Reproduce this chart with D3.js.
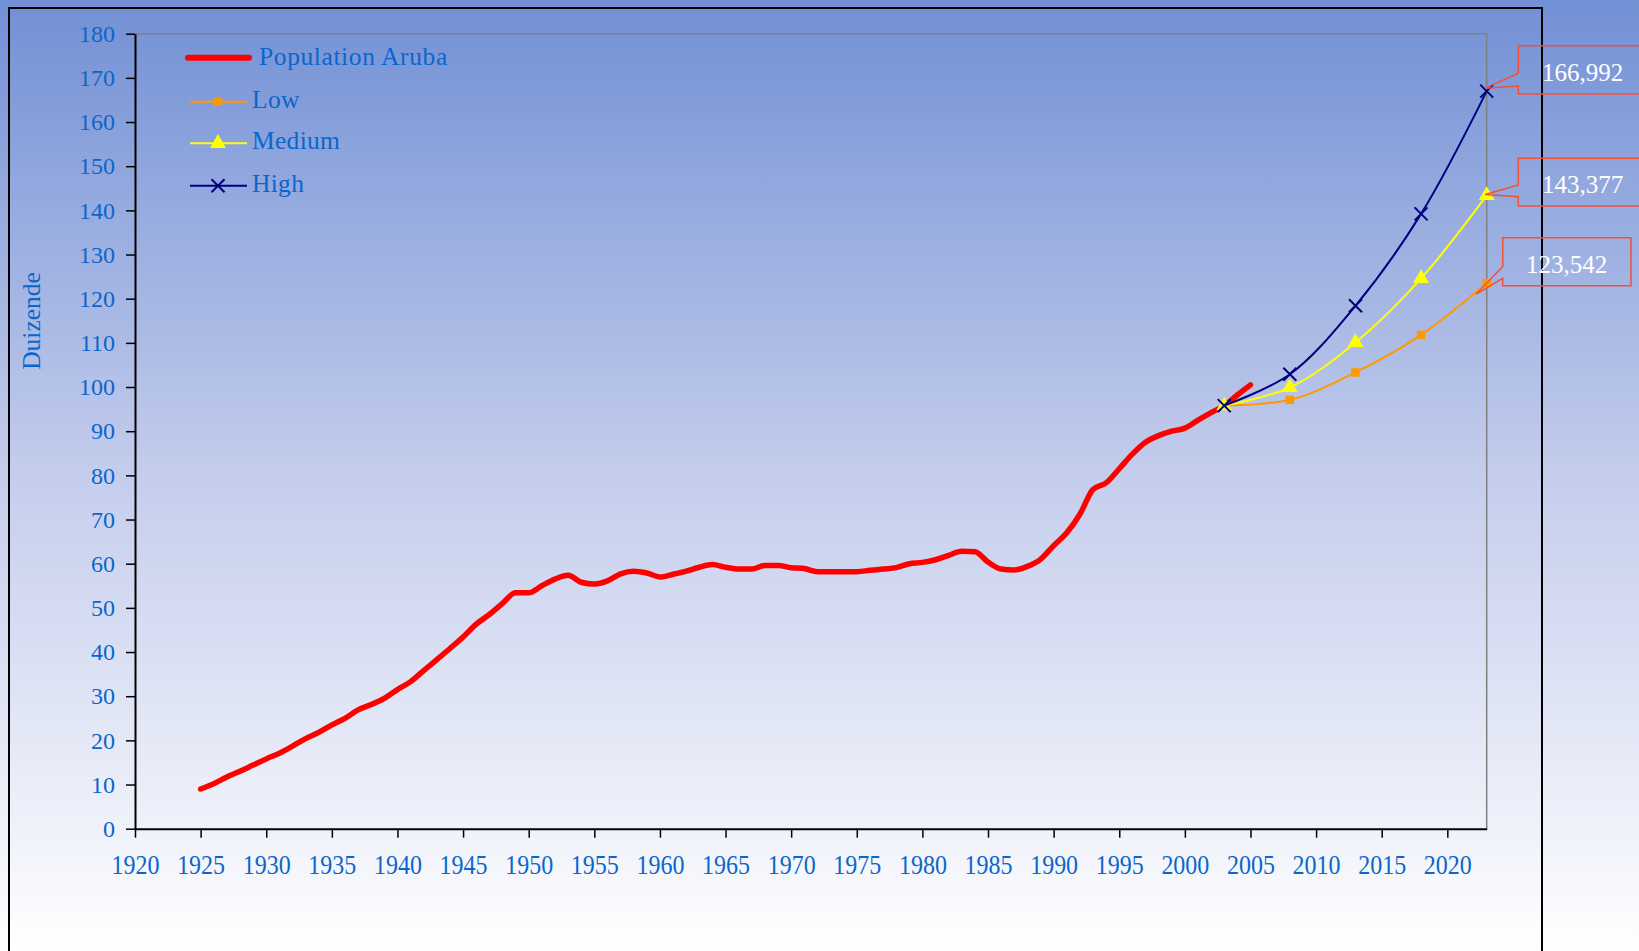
<!DOCTYPE html>
<html>
<head>
<meta charset="utf-8">
<script src="https://cdn.jsdelivr.net/npm/d3@7"></script>
<style>
body { margin: 0; overflow: hidden; }
</style>
</head>
<body>
<div id="chart"></div>
<script>
// population Aruba in thousands, 1925 - 2005
var years = d3.range(1925, 2006);
var population = [
    9.0, 10.2, 11.7, 13.0, 14.4, 15.8, 17.1, 18.7, 20.4, 21.8,
    23.5, 25.0, 26.9, 28.1, 29.5, 31.5, 33.3, 35.8, 38.3, 40.8,
    43.4, 46.3, 48.5, 51.0, 53.4, 53.4, 55.0, 56.5, 57.4, 55.8,
    55.4, 56.1, 57.7, 58.3, 57.9, 57.0, 57.6, 58.3, 59.2, 59.8,
    59.2, 58.8, 58.8, 59.6, 59.6, 59.1, 58.9, 58.2, 58.2, 58.2,
    58.2, 58.5, 58.8, 59.1, 60.0, 60.3, 60.9, 61.9, 62.8, 62.7,
    60.4, 58.8, 58.6, 59.4, 61.0, 64.1, 67.0, 71.2, 76.8, 78.3,
    81.5, 84.8, 87.5, 89.0, 90.0, 90.7, 92.5, 94.2, 95.8, 98.2,
    100.5
];

// projections
var projYears = [2003, 2008, 2013, 2018, 2023];
var low = [95.8, 97.1, 103.3, 111.8, 123.542];
var medium = [95.8, 99.9, 110.1, 124.6, 143.377];
var high = [95.8, 102.9, 118.4, 139.2, 166.992];

var xTicks = d3.range(1920, 2021, 5);
var yTicks = d3.range(0, 181, 10);
var endLabels = ['166,992', '143,377', '123,542'];

var W = 1639, H = 951;
var blue = '#0a66cc';
var serif = '"Liberation Serif", "Times New Roman", serif';

var svg = d3.select('#chart').append('svg')
    .attr('width', W)
    .attr('height', H)
    .style('font-family', serif);

var grad = svg.append('defs').append('linearGradient')
    .attr('id', 'bg')
    .attr('x1', 0).attr('y1', 0).attr('x2', 0).attr('y2', 1);
grad.append('stop').attr('offset', 0).attr('stop-color', 'rgb(114,144,213)');
grad.append('stop').attr('offset', 0.5).attr('stop-color', 'rgb(196,205,236)');
grad.append('stop').attr('offset', 1).attr('stop-color', 'rgb(255,255,255)');

svg.append('rect')
    .attr('width', W)
    .attr('height', H)
    .attr('fill', 'url(#bg)');

// outer chart frame (bottom runs off the page)
svg.append('rect')
    .attr('x', 9).attr('y', 8)
    .attr('width', 1533).attr('height', 1000)
    .attr('fill', 'none')
    .attr('stroke', '#000')
    .attr('stroke-width', 2);

var x = d3.scaleLinear()
    .domain([1920, 2023])
    .range([135, 1486.7]);

var y = d3.scaleLinear()
    .domain([0, 180])
    .range([828.7, 33.7]);

// plot area border, top and right
svg.append('path')
    .attr('d', 'M' + x(1920) + ',' + y(180) + 'H' + x(2023) + 'V' + y(0))
    .attr('fill', 'none')
    .attr('stroke', '#808080')
    .attr('stroke-width', 1.5);

var xAxis = d3.axisBottom(x)
    .tickValues(xTicks)
    .tickFormat(d3.format('d'))
    .tickSize(9)
    .tickSizeOuter(0);

var yAxis = d3.axisLeft(y)
    .tickValues(yTicks)
    .tickSize(9)
    .tickSizeOuter(0)
    .tickPadding(11);

var gx = svg.append('g')
    .attr('transform', 'translate(0,' + y(0) + ')')
    .call(xAxis);

var gy = svg.append('g')
    .attr('transform', 'translate(' + x(1920) + ',0)')
    .call(yAxis);

svg.selectAll('.domain').attr('stroke', '#000').attr('stroke-width', 2);
svg.selectAll('.tick line').attr('stroke', '#000').attr('stroke-width', 1.5);
svg.selectAll('.tick text')
    .attr('fill', blue)
    .style('font-family', serif)
    .style('font-size', '24px');
gx.selectAll('text')
    .attr('y', 0)
    .attr('dy', 0)
    .attr('transform', 'translate(0,45.5) scale(1,1.18)');

svg.append('text')
    .attr('transform', 'translate(40,321) rotate(-90)')
    .attr('text-anchor', 'middle')
    .attr('fill', blue)
    .style('font-size', '25.5px')
    .text('Duizende');

// lines
var line = d3.line()
    .curve(d3.curveMonotoneX)
    .x(d => x(d[0]))
    .y(d => y(d[1]));

svg.append('path')
    .datum(d3.zip(years, population))
    .attr('fill', 'none')
    .attr('stroke', '#ff0000')
    .attr('stroke-width', 5.5)
    .attr('stroke-linejoin', 'round')
    .attr('stroke-linecap', 'round')
    .attr('d', line);

var xMark = function(s) {
    return 'M' + (-s) + ',' + (-s) + 'L' + s + ',' + s + 'M' + s + ',' + (-s) + 'L' + (-s) + ',' + s;
};

var series = [
    {name: 'Low', values: low, color: '#ff9900',
        mark: d3.symbol().type(d3.symbolSquare).size(72)(), fill: true},
    {name: 'Medium', values: medium, color: '#ffff00',
        mark: d3.symbol().type(d3.symbolTriangle).size(110)(), fill: true},
    {name: 'High', values: high, color: '#000080',
        mark: xMark(6.5), fill: false}
];

var lineP = d3.line()
    .curve(d3.curveCatmullRom.alpha(0.5))
    .x(d => x(d[0]))
    .y(d => y(d[1]));

series.forEach(function(s) {
    var pts = d3.zip(projYears, s.values);
    svg.append('path')
        .datum(pts)
        .attr('fill', 'none')
        .attr('stroke', s.color)
        .attr('stroke-width', 2)
        .attr('d', lineP);
    svg.selectAll(null)
        .data(pts)
        .enter().append('path')
        .attr('transform', d => 'translate(' + x(d[0]) + ',' + y(d[1]) + ')')
        .attr('d', s.mark)
        .attr('fill', s.fill ? s.color : 'none')
        .attr('stroke', s.fill ? 'none' : s.color)
        .attr('stroke-width', 2);
});

// callouts with the 2023 values
var callouts = [
    {v: high[4], box: [1518.3, 45.7, 1660, 94], notch: [73.3, 86], tip: [-1.5, -3], tx: 1582.5},
    {v: medium[4], box: [1518.3, 158.3, 1660, 206], notch: [185, 196.7], tip: [-1.5, -1], tx: 1582.5},
    {v: low[4], box: [1502.7, 237.7, 1631, 285.7], notch: [266.7, 278.3], tip: [-10.5, 11], tx: 1566.7}
];

callouts.forEach(function(c, i) {
    var tx = x(2023) + c.tip[0], ty = y(c.v) + c.tip[1];
    var b = c.box;
    var p = d3.path();
    p.moveTo(b[0], b[1]);
    p.lineTo(b[0], c.notch[0]);
    p.lineTo(tx, ty);
    p.lineTo(b[0], c.notch[1]);
    p.lineTo(b[0], b[3]);
    p.lineTo(b[2], b[3]);
    p.lineTo(b[2], b[1]);
    p.closePath();
    svg.append('path')
        .attr('d', p.toString())
        .attr('fill', 'none')
        .attr('stroke', '#f0503c')
        .attr('stroke-width', 1.5);
    svg.append('text')
        .attr('x', c.tx)
        .attr('y', (b[1] + b[3]) / 2 + 11)
        .attr('text-anchor', 'middle')
        .attr('fill', '#fff')
        .style('font-size', '25px')
        .text(endLabels[i]);
});

// legend
var legend = svg.append('g');
legend.append('line')
    .attr('x1', 188).attr('x2', 249)
    .attr('y1', 57.7).attr('y2', 57.7)
    .attr('stroke', '#ff0000')
    .attr('stroke-width', 6)
    .attr('stroke-linecap', 'round');
legend.append('text')
    .attr('x', 259).attr('y', 65)
    .attr('fill', blue)
    .style('font-size', '25.5px')
    .style('letter-spacing', '0.6px')
    .text('Population Aruba');

var legY = [101.7, 143.3, 185.7];
series.forEach(function(s, i) {
    legend.append('line')
        .attr('x1', 190).attr('x2', 247)
        .attr('y1', legY[i]).attr('y2', legY[i])
        .attr('stroke', s.color)
        .attr('stroke-width', 2);
    legend.append('path')
        .attr('transform', 'translate(218,' + legY[i] + ')')
        .attr('d', s.mark)
        .attr('fill', s.fill ? s.color : 'none')
        .attr('stroke', s.fill ? 'none' : s.color)
        .attr('stroke-width', 2);
    legend.append('text')
        .attr('x', 252).attr('y', legY[i] + 6)
        .attr('fill', blue)
        .style('font-size', '25.5px')
        .style('letter-spacing', '0.3px')
        .text(s.name);
});
</script>
</body>
</html>
